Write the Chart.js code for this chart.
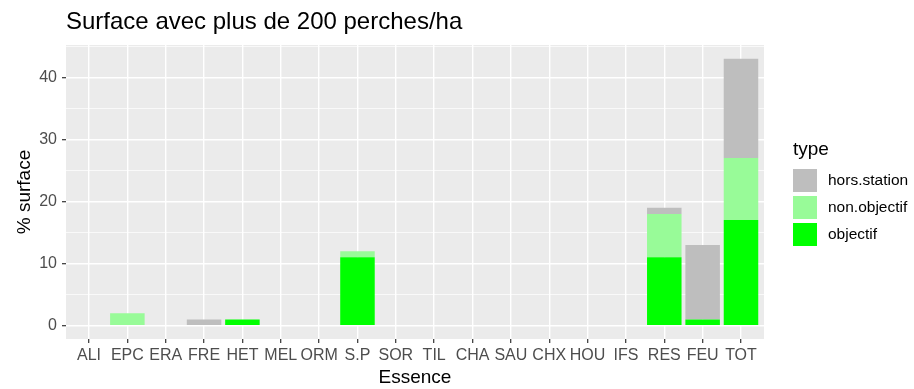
<!DOCTYPE html>
<html>
<head>
<meta charset="utf-8">
<script src="https://cdn.jsdelivr.net/npm/chart.js@4/dist/chart.umd.min.js"></script>
<style>
  body { margin: 0; background: #fff; }
  #wrap { width: 914px; height: 389px; position: relative; }
</style>
</head>
<body>
<div id="wrap"><canvas id="surfaceChart"></canvas></div>
<script>
// essences et surfaces (%) par type de station
const essences = ['ALI', 'EPC', 'ERA', 'FRE', 'HET', 'MEL', 'ORM', 'S.P', 'SOR', 'TIL',
                  'CHA', 'SAU', 'CHX', 'HOU', 'IFS', 'RES', 'FEU', 'TOT'];
const objectif    = [0, 0, 0, 0, 1, 0, 0, 11, 0, 0, 0, 0, 0, 0, 0, 11, 1, 17];
const nonObjectif = [0, 2, 0, 0, 0, 0, 0, 1, 0, 0, 0, 0, 0, 0, 0, 7, 0, 10];
const horsStation = [0, 0, 0, 1, 0, 0, 0, 0, 0, 0, 0, 0, 0, 0, 0, 1, 12, 16];
const yTicks = [0, 5, 10, 15, 20, 25, 30, 35, 40, 45];

const titre = 'Surface avec plus de 200 perches/ha';
const FONT = '"Liberation Sans", Arial, sans-serif';

// fond gris du panneau, titre et légende façon ggplot
const ggTheme = {
    id: 'ggTheme',
    beforeDraw(chart) {
        const { ctx, chartArea: a } = chart;
        ctx.save();
        ctx.fillStyle = '#fff';
        ctx.fillRect(0, 0, chart.width, chart.height);
        ctx.fillStyle = '#EBEBEB';
        ctx.fillRect(a.left, a.top, a.right - a.left, a.bottom - a.top);
        ctx.restore();
    },
    afterDraw(chart) {
        const { ctx, chartArea: a } = chart;
        ctx.save();
        ctx.fillStyle = '#000';
        ctx.textAlign = 'left';
        ctx.textBaseline = 'alphabetic';
        ctx.font = '24px ' + FONT;
        ctx.fillText(titre, a.left, 29);

        // légende (ordre inverse des séries empilées)
        const lx = a.right + 29;
        ctx.font = '19px ' + FONT;
        ctx.fillText('type', lx, 155);
        ctx.font = '15.5px ' + FONT;
        ctx.textBaseline = 'middle';
        const sets = chart.data.datasets.slice().reverse();
        sets.forEach((ds, i) => {
            const y = 169 + i * 27;
            ctx.fillStyle = ds.backgroundColor;
            ctx.fillRect(lx, y, 24, 23);
            ctx.fillStyle = '#000';
            ctx.fillText(ds.label, lx + 35, y + 12);
        });
        ctx.restore();
    }
};

const ctx = document.getElementById('surfaceChart').getContext('2d');

new Chart(ctx, {
    type: 'bar',
    data: {
        labels: essences,
        datasets: [
            { label: 'objectif', data: objectif, backgroundColor: '#00FF00' },
            { label: 'non.objectif', data: nonObjectif, backgroundColor: '#98FB98' },
            { label: 'hors.station', data: horsStation, backgroundColor: '#BEBEBE' }
        ]
    },
    options: {
        responsive: true,
        maintainAspectRatio: false,
        animation: false,
        layout: { padding: { top: 45, right: 150, left: 0, bottom: 0 } },
        datasets: {
            bar: { categoryPercentage: 0.9, barPercentage: 1, borderWidth: 0 }
        },
        plugins: {
            legend: { display: false },
            tooltip: { enabled: false }
        },
        scales: {
            x: {
                stacked: true,
                // marge de 0.6 catégorie de chaque côté
                afterBuildTicks: s => {
                    s._startValue = s.min - 0.6;
                    s._valueRange = s.max - s.min + 1.2;
                },
                afterFit: s => { s.height = 50; },
                border: { display: false },
                grid: {
                    offset: false,
                    color: '#FFFFFF',
                    lineWidth: 1.4,
                    tickColor: '#333333',
                    tickWidth: 1.2,
                    tickLength: 4
                },
                ticks: {
                    autoSkip: false,
                    maxRotation: 0,
                    color: '#4D4D4D',
                    padding: 3,
                    font: { family: FONT, size: 16 }
                },
                title: {
                    display: true,
                    text: 'Essence',
                    color: '#000',
                    padding: { top: 0, bottom: 0 },
                    font: { family: FONT, size: 19 }
                }
            },
            y: {
                stacked: true,
                min: -2.15,
                max: 45.2,
                afterBuildTicks: s => { s.ticks = yTicks.map(v => ({ value: v })); },
                afterFit: s => { s.width = 66; },
                border: { display: false },
                grid: {
                    color: '#FFFFFF',
                    lineWidth: c => (c.tick && c.tick.value % 10 === 0) ? 1.4 : 0.7,
                    tickColor: c => (c.tick && c.tick.value % 10 === 0) ? '#333333' : 'rgba(0,0,0,0)',
                    tickWidth: 1.2,
                    tickLength: 4
                },
                ticks: {
                    autoSkip: false,
                    color: '#4D4D4D',
                    padding: 5,
                    font: { family: FONT, size: 16 },
                    callback: v => v % 10 === 0 ? v : ''
                },
                title: {
                    display: true,
                    text: '% surface',
                    color: '#000',
                    padding: { top: 13, bottom: 0 },
                    font: { family: FONT, size: 19 }
                }
            }
        }
    },
    plugins: [ggTheme]
});
</script>
</body>
</html>
